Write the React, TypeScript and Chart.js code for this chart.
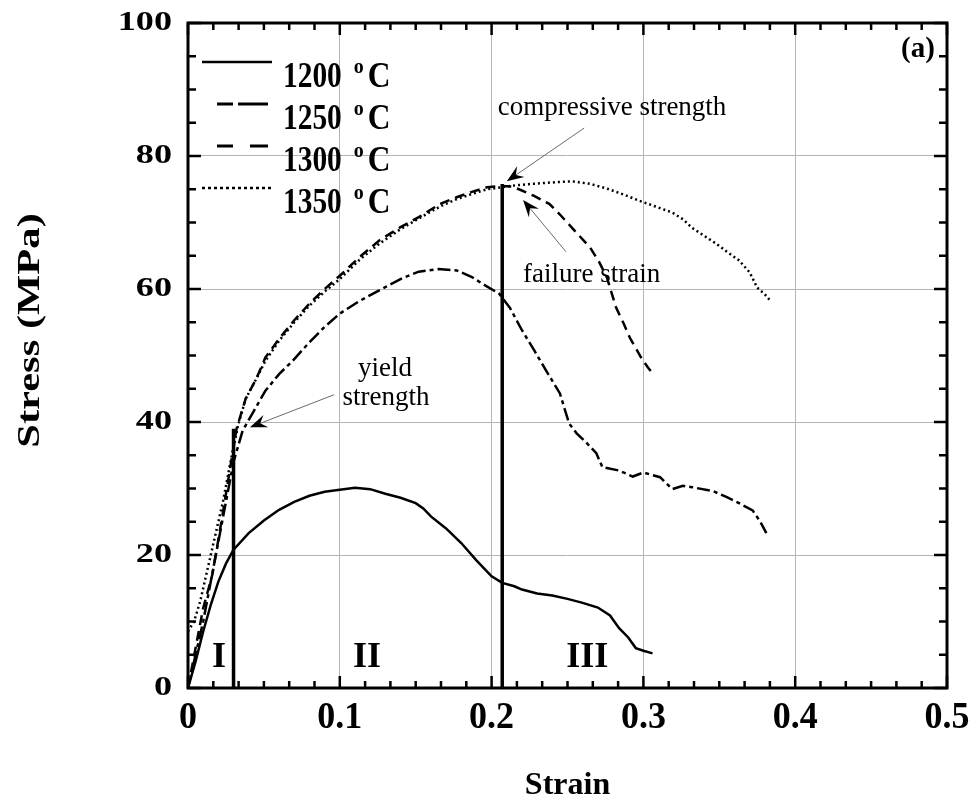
import React, { useEffect, useRef } from 'react';
import { Chart, registerables } from 'chart.js';

Chart.register(...registerables);

// ---- Data ----
const strain1200 = [0, 0.005, 0.01, 0.015, 0.02, 0.025, 0.03, 0.04, 0.05, 0.06, 0.07, 0.08, 0.09, 0.1, 0.11, 0.12, 0.13, 0.14, 0.15, 0.155, 0.16, 0.17, 0.18, 0.19, 0.2, 0.207, 0.215, 0.22, 0.23, 0.24, 0.25, 0.26, 0.27, 0.278, 0.284, 0.29, 0.295, 0.3, 0.306];
const stress1200 = [0, 4, 8.5, 12.5, 16, 18.7, 20.8, 23.3, 25.2, 26.8, 28, 28.9, 29.5, 29.8, 30.1, 29.9, 29.2, 28.6, 27.8, 27, 25.8, 24, 21.8, 19.2, 16.8, 15.8, 15.3, 14.8, 14.2, 13.9, 13.4, 12.8, 12.1, 10.9, 9, 7.6, 6, 5.6, 5.2];

const strain1250 = [0, 0.005, 0.01, 0.015, 0.02, 0.025, 0.03, 0.036, 0.045, 0.051, 0.06, 0.069, 0.08, 0.09, 0.1, 0.113, 0.126, 0.14, 0.152, 0.165, 0.177, 0.187, 0.196, 0.205, 0.212, 0.22, 0.228, 0.236, 0.245, 0.251, 0.256, 0.262, 0.269, 0.273, 0.284, 0.293, 0.3, 0.311, 0.319, 0.326, 0.332, 0.346, 0.355, 0.363, 0.372, 0.377, 0.381];
const stress1250 = [0, 5, 10, 16, 22, 28, 34, 38.7, 42.3, 44.7, 47.2, 49.2, 52, 54.3, 56.3, 58.2, 59.8, 61.5, 62.6, 63, 62.8, 61.8, 60.5, 59.3, 57.2, 53.8, 50.8, 47.7, 44.3, 39.8, 38.3, 37, 35.3, 33.2, 32.7, 31.8, 32.4, 31.7, 29.9, 30.4, 30.2, 29.6, 28.7, 27.8, 26.7, 25, 23.3];

const strain1300 = [0, 0.005, 0.01, 0.016, 0.022, 0.027, 0.032, 0.038, 0.045, 0.051, 0.06, 0.07, 0.08, 0.09, 0.1, 0.113, 0.126, 0.14, 0.152, 0.166, 0.177, 0.187, 0.197, 0.207, 0.213, 0.218, 0.228, 0.238, 0.245, 0.253, 0.265, 0.271, 0.276, 0.282, 0.287, 0.291, 0.299, 0.303, 0.307];
const stress1300 = [0, 6, 12, 17, 25, 32, 39, 43.5, 46.5, 49.7, 52.5, 55.3, 57.8, 60, 62, 64.8, 67.3, 69.3, 70.8, 72.8, 73.8, 74.6, 75.3, 75.5, 75.4, 75, 74, 72.8, 71.2, 69.2, 66.2, 64, 61.7, 57.2, 54.8, 52.7, 49.5, 48.2, 47];

const strain1350 = [0, 0.004, 0.008, 0.013, 0.018, 0.023, 0.028, 0.033, 0.038, 0.045, 0.051, 0.06, 0.07, 0.08, 0.09, 0.1, 0.113, 0.126, 0.14, 0.152, 0.166, 0.177, 0.187, 0.197, 0.207, 0.216, 0.232, 0.245, 0.253, 0.265, 0.276, 0.287, 0.297, 0.308, 0.319, 0.326, 0.332, 0.34, 0.348, 0.355, 0.363, 0.37, 0.375, 0.38, 0.383];
const stress1350 = [8.5, 10, 13, 18, 23, 28, 34, 39.5, 43.5, 46.5, 49.2, 52.2, 55, 57.5, 59.6, 61.5, 64.4, 66.8, 69, 70.6, 72.4, 73.5, 74.3, 75, 75.3, 75.6, 75.9, 76.1, 76.2, 75.8, 75.1, 74.2, 73.3, 72.4, 71.5, 70.5, 69.2, 68, 66.8, 65.6, 64.3, 62.5, 60.2, 59.2, 58.4];

// Stage boundaries (yield strain / failure strain)
const yieldStrain = 0.03;
const yieldStress = 39;
const failureStrain = 0.207;
const failureStress = 75.8;

const legendLabels = ['1200', '1250', '1300', '1350'];
const xTickValues = [0, 0.1, 0.2, 0.3, 0.4, 0.5];
const xTickLabels = ['0', '0.1', '0.2', '0.3', '0.4', '0.5'];
const yTickValues = [0, 20, 40, 60, 80, 100];
const yTickLabels = ['0', '20', '40', '60', '80', '100'];
const stageLabels = ['I', 'II', 'III'];
const stageStrains = [0.0204, 0.118, 0.263];

const SERIF = "'Liberation Serif', 'Times New Roman', serif";

const toPts = (xs: number[], ys: number[]) => xs.map((x, i) => ({ x, y: ys[i] }));

function drawScaledText(ctx: CanvasRenderingContext2D, text: string, x: number, y: number, font: string, align: CanvasTextAlign, sx = 1, sy = 1, rot = 0) {
  ctx.save();
  ctx.translate(x, y);
  if (rot) ctx.rotate(rot);
  ctx.scale(sx, sy);
  ctx.font = font;
  ctx.textAlign = align;
  ctx.textBaseline = 'alphabetic';
  ctx.fillStyle = '#000';
  ctx.fillText(text, 0, 0);
  ctx.restore();
}

function drawArrow(ctx: CanvasRenderingContext2D, x0: number, y0: number, x1: number, y1: number) {
  const ang = Math.atan2(y1 - y0, x1 - x0);
  const len = 17, half = 6.5, notch = 11;
  ctx.save();
  ctx.strokeStyle = '#6a6a6a';
  ctx.lineWidth = 1;
  ctx.beginPath();
  ctx.moveTo(x0, y0);
  ctx.lineTo(x1 - Math.cos(ang) * notch, y1 - Math.sin(ang) * notch);
  ctx.stroke();
  ctx.translate(x1, y1);
  ctx.rotate(ang);
  ctx.fillStyle = '#000';
  ctx.beginPath();
  ctx.moveTo(0, 0);
  ctx.lineTo(-len, -half);
  ctx.lineTo(-notch, 0);
  ctx.lineTo(-len, half);
  ctx.closePath();
  ctx.fill();
  ctx.restore();
}

const decorPlugin = {
  id: 'decor',
  afterDraw(chart: any) {
    const ctx: CanvasRenderingContext2D = chart.ctx;
    const xs = chart.scales.x;
    const ys = chart.scales.y;
    const { left, right, top, bottom } = chart.chartArea;
    const X = (v: number) => xs.getPixelForValue(v);
    const Y = (v: number) => ys.getPixelForValue(v);

    ctx.save();
    // ticks
    ctx.strokeStyle = '#000';
    ctx.lineWidth = 2.5;
    ctx.beginPath();
    for (let i = 0; i <= 30; i++) {
      const px = X((i * 0.5) / 30);
      const l = i % 6 === 0 ? 12 : 7;
      ctx.moveTo(px, bottom); ctx.lineTo(px, bottom - l);
      ctx.moveTo(px, top); ctx.lineTo(px, top + l);
    }
    for (let i = 0; i <= 20; i++) {
      const py = Y(i * 5);
      const l = i % 4 === 0 ? 13 : 8;
      ctx.moveTo(left, py); ctx.lineTo(left + l, py);
      ctx.moveTo(right, py); ctx.lineTo(right - l, py);
    }
    ctx.stroke();
    // frame
    ctx.lineWidth = 3;
    ctx.strokeRect(left, top, right - left, bottom - top);

    // tick labels
    yTickValues.forEach((v, i) => {
      drawScaledText(ctx, yTickLabels[i], 172, Y(v) + 7, `bold 27px ${SERIF}`, 'right', 1.34, 1);
    });
    xTickValues.forEach((v, i) => {
      drawScaledText(ctx, xTickLabels[i], X(v), 728, `bold 36px ${SERIF}`, 'center', 1, 1.05);
    });
    // axis titles
    drawScaledText(ctx, 'Strain', (left + right) / 2, 794, `bold 32px ${SERIF}`, 'center');
    drawScaledText(ctx, 'Stress (MPa)', 39, (top + bottom) / 2 - 25, `bold 30px ${SERIF}`, 'center', 1.42, 1.05, -Math.PI / 2);

    // panel label
    drawScaledText(ctx, '(a)', X(0.492), Y(94.9), `bold 29px ${SERIF}`, 'right');

    // stage labels
    stageLabels.forEach((s, i) => {
      drawScaledText(ctx, s, X(stageStrains[i]), Y(3.2), `bold 36px ${SERIF}`, 'center');
    });

    // annotations
    const ann = `27px ${SERIF}`;
    drawScaledText(ctx, 'compressive strength', X(0.204), Y(86.2), ann, 'left');
    drawArrow(ctx, X(0.261), Y(84.2), X(0.210), Y(76.2));
    drawScaledText(ctx, 'failure strain', X(0.2207), Y(61.05), ann, 'left');
    drawArrow(ctx, X(0.249), Y(65.6), X(0.2207), Y(73.4));
    drawScaledText(ctx, 'yield', X(0.1298), Y(46.9), ann, 'center');
    drawScaledText(ctx, 'strength', X(0.1304), Y(42.6), ann, 'center');
    drawArrow(ctx, X(0.0962), Y(44.1), X(0.0408), Y(39.2));

    // legend
    const rows = [62, 104, 146, 188];
    ctx.strokeStyle = '#000';
    const segs: number[][][] = [
      [[202, 272]],
      [[217, 233], [238, 268]],
      [[217, 233], [250, 268]],
    ];
    rows.forEach((ry, i) => {
      ctx.beginPath();
      if (i < 3) {
        segs[i].forEach(([a, b]) => { ctx.moveTo(a, ry); ctx.lineTo(b, ry); });
        ctx.setLineDash([]);
        ctx.lineWidth = i === 0 ? 2.5 : 3;
      } else {
        ctx.setLineDash([3, 3]);
        ctx.lineWidth = 2.5;
        ctx.moveTo(202, ry); ctx.lineTo(272, ry);
      }
      ctx.stroke();
      ctx.setLineDash([]);
      const base = ry + 25;
      const f = `bold 35px ${SERIF}`;
      ctx.save();
      ctx.font = f;
      const w = ctx.measureText(legendLabels[i]).width * 0.84;
      ctx.restore();
      drawScaledText(ctx, legendLabels[i], 283, base, f, 'left', 0.84, 1);
      drawScaledText(ctx, 'o', 283 + w + 12, base - 14, `bold 21px ${SERIF}`, 'left', 0.95, 1);
      drawScaledText(ctx, 'C', 283 + w + 26, base, f, 'left', 0.9, 1);
    });
    ctx.restore();
  },
};

export default function App() {
  const ref = useRef<HTMLCanvasElement | null>(null);
  useEffect(() => {
    if (!ref.current) return;
    const line = (data: any, dash: number[], width = 2.5) => ({
      data,
      showLine: true,
      borderColor: '#000',
      backgroundColor: '#000',
      borderWidth: width,
      borderDash: dash,
      pointRadius: 0,
      tension: 0,
      fill: false,
    });
    const chart = new Chart(ref.current, {
      type: 'scatter',
      data: {
        datasets: [
          { label: '1200 °C', ...line(toPts(strain1200, stress1200), []) },
          { label: '1250 °C', ...line(toPts(strain1250, stress1250), [13, 4, 4, 4]) },
          { label: '1300 °C', ...line(toPts(strain1300, stress1300), [10, 6]) },
          { label: '1350 °C', ...line(toPts(strain1350, stress1350), [2, 3]) },
          { label: 'yield', ...line([{ x: yieldStrain, y: 0 }, { x: yieldStrain, y: yieldStress }], [], 3.5) },
          { label: 'failure', ...line([{ x: failureStrain, y: 0 }, { x: failureStrain, y: failureStress }], [], 3.5) },
        ],
      } as any,
      options: {
        responsive: false,
        animation: false,
        devicePixelRatio: 1,
        layout: { padding: { left: 188, top: 23, right: 30, bottom: 111 } },
        plugins: { legend: { display: false }, tooltip: { enabled: false } },
        scales: {
          x: {
            type: 'linear', min: 0, max: 0.5,
            ticks: { display: false, stepSize: 0.1 },
            grid: { color: '#b4b4b4', lineWidth: 1, drawTicks: false },
            border: { display: false },
          },
          y: {
            type: 'linear', min: 0, max: 100,
            ticks: { display: false, stepSize: 20 },
            grid: { color: '#b4b4b4', lineWidth: 1, drawTicks: false },
            border: { display: false },
          },
        },
      } as any,
      plugins: [decorPlugin],
    });
    return () => chart.destroy();
  }, []);
  return (
    <div style={{ position: 'fixed', left: 0, top: 0, width: 977, height: 799, background: '#fff' }}>
      <canvas ref={ref} width={977} height={799} style={{ display: 'block' }} />
    </div>
  );
}
